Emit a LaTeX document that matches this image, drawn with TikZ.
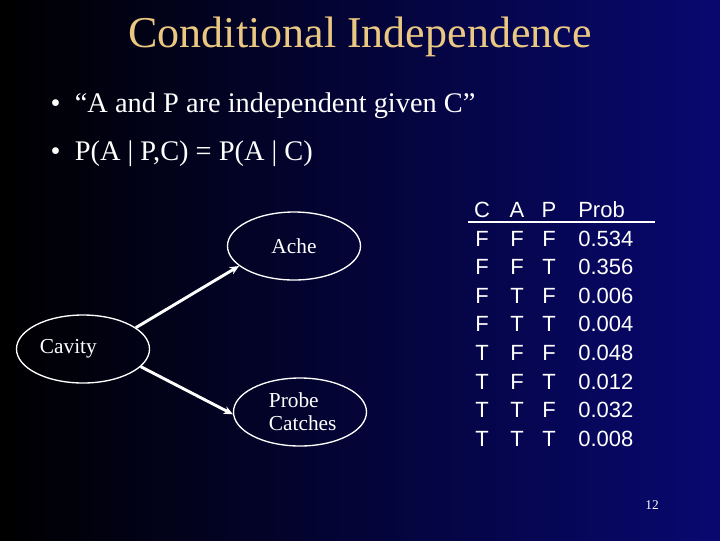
\documentclass[tikz,border=0pt]{standalone}
\usepackage{fontspec}
\setmainfont{Liberation Serif}
\newfontfamily\arial{Liberation Sans}
\usetikzlibrary{shapes.geometric,arrows.meta}
\definecolor{navy}{RGB}{8,8,112}
\definecolor{titlec}{RGB}{235,200,130}
\begin{document}
\begin{tikzpicture}[x=0.75pt,y=-0.75pt,
  ell/.style={ellipse,draw=white,line width=1pt,minimum width=133*0.75pt,minimum height=68*0.75pt,inner sep=0pt,text=white,font=\fontsize{16}{17}\selectfont},
  arr/.style={draw=white,line width=2.2pt,-{Stealth[length=7pt,width=6pt]}},
  tab/.style={text=white,font=\arial\fontsize{16.5}{18}\selectfont,inner sep=0pt}]
\shade[left color=black,right color=navy] (0,0) rectangle (720,540);
\useasboundingbox (0,0) rectangle (720,540);
\node[text=titlec,font=\fontsize{33}{36}\selectfont] (title) at (360,37) {Conditional Independence};
\node[text=white,font=\fontsize{21.3}{24}\selectfont,anchor=west] (b1) at (46,106) {\textbullet\ \ “A and P are independent given C”};
\node[text=white,font=\fontsize{21.3}{24}\selectfont,anchor=west] (b2) at (46,154) {\textbullet\ \ P(A | P,C) = P(A | C)};
\node[ell] (ache) at (294,246) {Ache};
\node[ell] (cav) at (83,349) {\hspace*{-22pt}Cavity};
\node[ell,align=left] (probe) at (300,412) {\hspace*{4pt}Probe\\\hspace*{4pt}Catches};
\draw[arr] (cav.22) -- (ache.200);
\draw[arr] (cav.-17) -- (probe.182);
\foreach \c/\a/\p/\pr [count=\i] in {C/A/P/Prob,F/F/F/0.534,F/F/T/0.356,F/T/F/0.006,F/T/T/0.004,T/F/F/0.048,T/F/T/0.012,T/T/F/0.032,T/T/T/0.008}{
  \node[tab] (c\i) at (482,{210+28.6*(\i-1)}) {\c};
  \node[tab] (a\i) at (517,{210+28.6*(\i-1)}) {\a};
  \node[tab] (p\i) at (549,{210+28.6*(\i-1)}) {\p};
  \node[tab,anchor=west] (pr\i) at (578,{210+28.6*(\i-1)}) {\pr};
}
\coordinate (h1) at (468,222); \coordinate (h2) at (655,222);
\draw[white,line width=0.8pt] (h1) -- (h2);
\node[text=white,font=\fontsize{10}{12}\selectfont] (pg) at (652,505) {12};
\end{tikzpicture}
\end{document}
